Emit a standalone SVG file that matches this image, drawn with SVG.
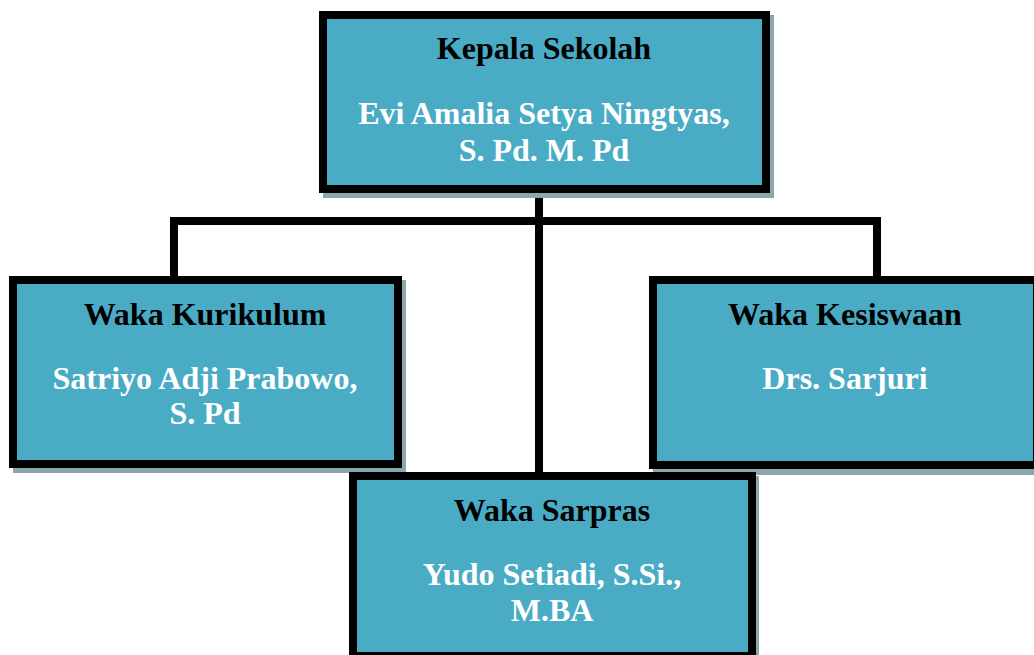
<svg xmlns="http://www.w3.org/2000/svg" width="1034" height="655" viewBox="0 0 1034 655">
<style>
.shadow{fill:#8aa7ae}
.box{fill:#4aabc5;stroke:#000;stroke-width:8}
.conn{fill:none;stroke:#000;stroke-width:8;stroke-linejoin:miter}
.t{font-family:"Liberation Serif","Times New Roman",serif;font-weight:bold;font-size:32px;text-anchor:middle}
.title{fill:#000}
.name{fill:#fff}
</style>
<rect width="1034" height="655" fill="#fff"/>
<g id="connectors">
<polyline class="conn" points="174,278 174,221 877,221 877,278"/>
<line class="conn" x1="539" y1="190" x2="539" y2="474"/>
</g>
<g id="kepala">
<rect class="shadow" x="323" y="15" width="451" height="183"/>
<rect class="box" x="323" y="15" width="443" height="174"/>
<text class="t title" x="544" y="59">Kepala Sekolah</text>
<text class="t name" x="544" y="124">Evi Amalia Setya Ningtyas,</text>
<text class="t name" x="544" y="161">S. Pd. M. Pd</text>
</g>
<g id="kurikulum">
<rect class="shadow" x="13" y="280" width="393" height="193"/>
<rect class="box" x="13" y="280" width="385" height="184"/>
<text class="t title" x="205" y="325">Waka Kurikulum</text>
<text class="t name" x="205" y="389">Satriyo Adji Prabowo,</text>
<text class="t name" x="205" y="424">S. Pd</text>
</g>
<g id="kesiswaan">
<rect class="shadow" x="653" y="280" width="392" height="195"/>
<rect class="box" x="653" y="280" width="384" height="185"/>
<text class="t title" x="845" y="325">Waka Kesiswaan</text>
<text class="t name" x="845" y="389">Drs. Sarjuri</text>
</g>
<g id="sarpras">
<rect class="shadow" x="353" y="476" width="406" height="190"/>
<rect class="box" x="353" y="476" width="399" height="180"/>
<text class="t title" x="552" y="521">Waka Sarpras</text>
<text class="t name" x="552" y="585">Yudo Setiadi, S.Si.,</text>
<text class="t name" x="552" y="621">M.BA</text>
</g>
</svg>
